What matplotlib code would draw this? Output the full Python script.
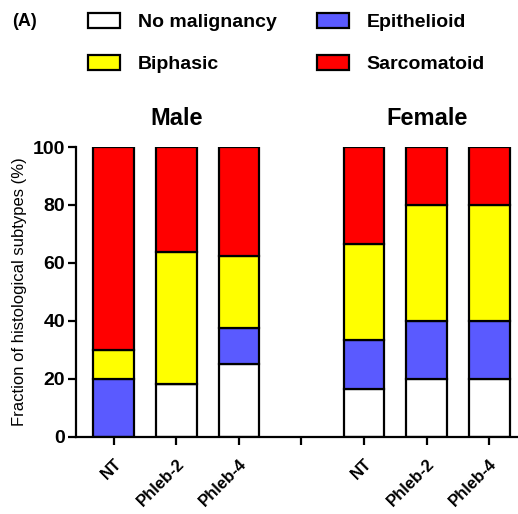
import numpy as np
import matplotlib
matplotlib.use('Agg')
from matplotlib import pyplot as plt
from matplotlib.patches import Patch

plt.rcParams['font.family'] = ['Liberation Sans', 'DejaVu Sans']

# data (percent), bottom to top
groups = ['Male', 'Female']
bar_labels = ['NT', 'Phleb-2', 'Phleb-4', '', 'NT', 'Phleb-2', 'Phleb-4']
positions = [0, 1, 2, 4, 5, 6]
no_malignancy = [0, 18.18, 25.0, 16.67, 20, 20]
epithelioid = [20, 0, 12.5, 16.67, 20, 20]
biphasic = [10, 45.45, 25.0, 33.33, 40, 40]
sarcomatoid = [70, 36.36, 37.5, 33.33, 20, 20]

series = [('No malignancy', no_malignancy, '#ffffff'),
          ('Epithelioid', epithelioid, '#5a5aff'),
          ('Biphasic', biphasic, '#ffff00'),
          ('Sarcomatoid', sarcomatoid, '#ff0000')]

fig = plt.figure(figsize=(5.18, 5.14), dpi=100)
ax = fig.add_axes([0.147, 0.150, 0.853, 0.564])

bottom = np.zeros(len(positions))
for name, vals, col in series:
    vals = np.array(vals)
    ax.bar(positions, vals, width=0.65, bottom=bottom, color=col,
           edgecolor='black', linewidth=1.6, label=name)
    bottom += vals

ax.set_xlim(-0.6, 6.46)
ax.set_ylim(0, 100)
ax.set_xticks(range(7))
ax.set_xticklabels(bar_labels, rotation=45, ha='right', rotation_mode='anchor',
                   fontsize=12, fontweight='bold')
ax.set_yticks(range(0, 101, 20))
ax.set_yticklabels([str(v) for v in range(0, 101, 20)], fontsize=14, fontweight='bold')
ax.tick_params(axis='both', width=1.6, length=6, direction='out')
ax.tick_params(axis='x', pad=8)
ax.tick_params(axis='y', pad=2)
for s in ['top', 'right']:
    ax.spines[s].set_visible(False)
for s in ['left', 'bottom']:
    ax.spines[s].set_linewidth(1.6)
ax.set_ylabel('Fraction of histological subtypes (%)', fontsize=12, labelpad=4)

ax.text(1, 106, groups[0], ha='center', va='bottom', fontsize=17, fontweight='bold')
ax.text(5, 106, groups[1], ha='center', va='bottom', fontsize=17, fontweight='bold')

fig.text(12 / 518, 1 - 21 / 514, '(A)', fontsize=13, fontweight='bold', va='center')

handles = [Patch(facecolor=c, edgecolor='black', linewidth=1.6) for _, _, c in series]
names = [n for n, _, _ in series]
order = [0, 2, 1, 3]
fig.legend([handles[i] for i in order], [names[i] for i in order], ncol=2,
           loc='upper left', bbox_to_anchor=(88 / 518, 1 - 13 / 514), frameon=False,
           borderpad=0, borderaxespad=0,
           prop={'size': 14, 'weight': 'bold'}, handlelength=1.65, handleheight=0.82,
           handletextpad=0.9, columnspacing=2.1, labelspacing=1.2)

plt.savefig('out.png', dpi=100)
